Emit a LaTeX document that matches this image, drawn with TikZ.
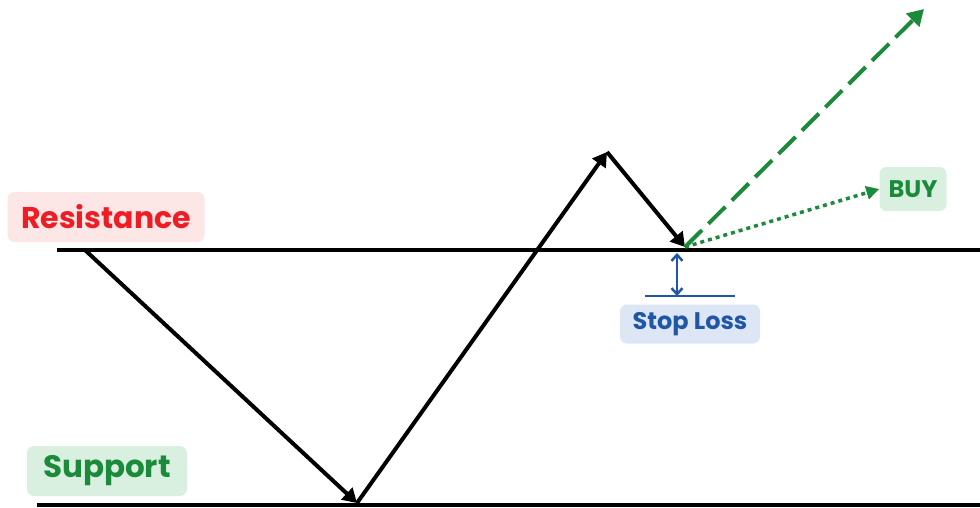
\documentclass[tikz,border=0pt]{standalone}
\usepackage{fontspec}
\setmainfont{Poppins}
\usetikzlibrary{arrows.meta}
\definecolor{resred}{HTML}{EE1C25}
\definecolor{resbg}{HTML}{FDE6E6}
\definecolor{supgreen}{HTML}{1B8A3A}
\definecolor{supbg}{HTML}{D9F0E0}
\definecolor{slblue}{HTML}{1F56A8}
\definecolor{slbg}{HTML}{DCE6F5}
\tikzset{
  tag/.style={rounded corners=7pt, inner sep=0pt, font=\bfseries},
  level/.style={line width=4.5pt, black},
  move/.style={line width=4pt, black, -{Triangle[length=14pt,width=16pt]}},
}
\begin{document}
\begin{tikzpicture}[x=1pt,y=-1pt]
\useasboundingbox (0,0) rectangle (980,507);
% levels
\coordinate (rL) at (57,250);
\coordinate (rR) at (980,250);
\coordinate (sL) at (37,505);
\coordinate (sR) at (980,505);
\draw[level] (rL) -- (rR);
\draw[level] (sL) -- (sR);
% price path
\coordinate (p0) at (85,250);
\coordinate (p1) at (357,503);
\coordinate (p2) at (607,152);
\coordinate (p3) at (685,247);
\draw[move] (p0) -- (p1);
\draw[move] (p1) -- (p2);
\draw[move] (p2) -- (p3);
% labels
\node[tag, fill=resbg, text=resred, font=\bfseries\fontsize{30}{36}\selectfont, minimum width=197pt, minimum height=50pt] (res) at (106,217) {Resistance};
\node[tag, fill=supbg, text=supgreen, font=\bfseries\fontsize{31}{37}\selectfont, minimum width=160pt, minimum height=50pt] (sup) at (107,471) {Support};
\node[tag, fill=supbg, text=supgreen, font=\bfseries\fontsize{24}{28}\selectfont, minimum width=67pt, minimum height=44pt] (buy) at (913,189) {BUY};
\node[tag, fill=slbg, text=slblue, font=\bfseries\fontsize{24}{28}\selectfont, minimum width=140pt, minimum height=39pt] (sl) at (690,324) {Stop Loss};
% buy arrows
\coordinate (target) at (924,9);
\draw[supgreen, line width=4pt, dash pattern=on 24pt off 9pt, -{Triangle[length=16pt,width=18pt]}] (p3) -- (target);
\draw[supgreen, line width=3.5pt, dash pattern=on 4pt off 4pt, -{Triangle[length=13pt,width=13pt]}] (p3) -- (buy.west);
% stop loss
\coordinate (slTop) at (677,253);
\coordinate (slBot) at (677,296);
\coordinate (slL) at (645,296);
\coordinate (slR) at (735,296);
\draw[slblue, line width=2pt] (slL) -- (slR);
\draw[slblue, line width=2.5pt, {Straight Barb[length=6pt,width=11pt]}-{Straight Barb[length=6pt,width=11pt]}] (slTop) -- (slBot);
\end{tikzpicture}
\end{document}
